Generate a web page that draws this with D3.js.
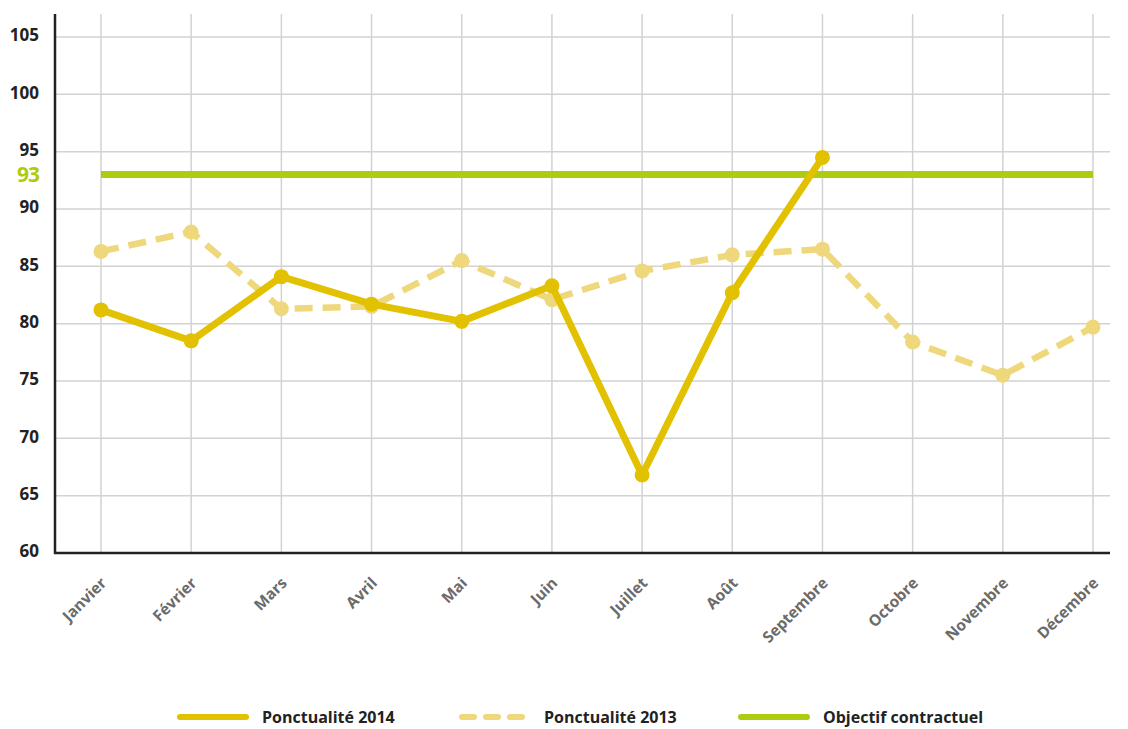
<!DOCTYPE html>
<html>
<head>
<meta charset="utf-8">
<script src="https://cdn.jsdelivr.net/npm/d3@7"></script>
<style>
  html, body { margin: 0; padding: 0; background: #fff; }
  svg { display: block; }
</style>
</head>
<body>
<svg id="chart" width="1128" height="729"></svg>
<script>
// Monthly punctuality (%) and contractual target
const months = ["Janvier", "Février", "Mars", "Avril", "Mai", "Juin", "Juillet", "Août", "Septembre", "Octobre", "Novembre", "Décembre"];
const ponct2014 = [81.2, 78.5, 84.1, 81.7, 80.2, 83.3, 66.8, 82.7, 94.5];
const ponct2013 = [86.3, 88.0, 81.3, 81.5, 85.5, 82.1, 84.6, 86.0, 86.5, 78.4, 75.5, 79.7];
const objectif = 93;
const yTicks = [60, 65, 70, 75, 80, 85, 90, 95, 100, 105];
const legendItems = ["Ponctualité 2014", "Ponctualité 2013", "Objectif contractuel"];

(function () {
  const c2014 = "#e2c100", c2013 = "#efd77c", cObj = "#aecb10";

  const svg = d3.select("#chart");
  const plotLeft = 55, plotRight = 1110, plotTop = 14, plotBottom = 553;

  const x = d3.scalePoint().domain(months).range([101, 1093]);
  const y = d3.scaleLinear().domain([60, 105]).range([plotBottom, 37]);

  // grid
  const g = svg.append("g");
  g.selectAll("line.h").data(yTicks.filter(d => d > 60)).join("line")
    .attr("x1", plotLeft).attr("x2", plotRight)
    .attr("y1", d => y(d)).attr("y2", d => y(d))
    .attr("stroke", "#d2d2d2").attr("stroke-width", 1.5);
  g.selectAll("line.v").data(months).join("line")
    .attr("x1", d => x(d)).attr("x2", d => x(d))
    .attr("y1", plotTop).attr("y2", plotBottom)
    .attr("stroke", "#d2d2d2").attr("stroke-width", 1.5);

  // axis lines
  svg.append("line").attr("x1", plotLeft).attr("x2", plotLeft).attr("y1", plotTop).attr("y2", plotBottom + 1)
    .attr("stroke", "#222").attr("stroke-width", 2.5);
  svg.append("line").attr("x1", plotLeft - 1).attr("x2", plotRight).attr("y1", plotBottom).attr("y2", plotBottom)
    .attr("stroke", "#222").attr("stroke-width", 2.5);

  // y tick labels
  const yAxis = d3.axisLeft(y).tickValues(yTicks).tickSize(0).tickPadding(0);
  const ya = svg.append("g").attr("transform", "translate(39,0)").call(yAxis);
  ya.select(".domain").remove();
  ya.selectAll("text")
    .attr("font-family", "'Open Sans', sans-serif").attr("font-weight", "700")
    .attr("font-size", 17).attr("fill", "#222").attr("dy", "0.22em");

  // target label
  svg.append("text").attr("x", 39).attr("y", y(objectif)).attr("dy", "0.36em")
    .attr("text-anchor", "end")
    .attr("font-family", "'Open Sans', sans-serif").attr("font-weight", "700")
    .attr("font-size", 21).attr("fill", cObj).attr("letter-spacing", -1).text(objectif);

  // x tick labels
  const xAxis = d3.axisBottom(x).tickSize(0).tickPadding(0);
  const xa = svg.append("g").attr("transform", `translate(0,${plotBottom})`).call(xAxis);
  xa.select(".domain").remove();
  xa.selectAll("text")
    .attr("font-family", "'Open Sans', sans-serif").attr("font-weight", "700")
    .attr("font-size", 15.5).attr("fill", "#6b6b6b")
    .attr("text-anchor", "end").attr("dy", null).attr("y", 0)
    .attr("transform", "translate(6,31) rotate(-45)");

  // target line
  svg.append("line")
    .attr("x1", x(months[0])).attr("x2", x(months[11]))
    .attr("y1", y(objectif)).attr("y2", y(objectif))
    .attr("stroke", cObj).attr("stroke-width", 7);

  const line = d3.line().x((d, i) => x(months[i])).y(d => y(d));

  // 2013 series
  svg.append("path").datum(ponct2013).attr("d", line)
    .attr("fill", "none").attr("stroke", c2013).attr("stroke-width", 6.5)
    .attr("stroke-dasharray", "18,10");
  svg.selectAll("circle.s13").data(ponct2013).join("circle").attr("class", "s13")
    .attr("cx", (d, i) => x(months[i])).attr("cy", d => y(d)).attr("r", 7.5).attr("fill", c2013);

  // 2014 series
  svg.append("path").datum(ponct2014).attr("d", line)
    .attr("fill", "none").attr("stroke", c2014).attr("stroke-width", 7)
    .attr("stroke-linejoin", "round");
  svg.selectAll("circle.s14").data(ponct2014).join("circle").attr("class", "s14")
    .attr("cx", (d, i) => x(months[i])).attr("cy", d => y(d)).attr("r", 7.5).attr("fill", c2014);

  // legend
  const legendX = [180, 462, 741];
  const lg = svg.append("g").attr("transform", "translate(0,717)");
  legendItems.forEach((name, i) => {
    const l = lg.append("line").attr("x1", legendX[i]).attr("x2", legendX[i] + 66)
      .attr("y1", 0).attr("y2", 0).attr("stroke-width", 6).attr("stroke-linecap", "round");
    if (i === 0) l.attr("stroke", c2014);
    if (i === 1) l.attr("stroke", c2013).attr("stroke-dasharray", "12,12");
    if (i === 2) l.attr("stroke", cObj);
    lg.append("text").attr("x", legendX[i] + 82).attr("y", 0).attr("dy", "0.35em")
      .attr("font-family", "'Liberation Sans Narrow', 'Open Sans', sans-serif").attr("font-weight", "700")
      .attr("font-size", 16).attr("fill", "#222").text(name);
  });
})();
</script>
</body>
</html>
